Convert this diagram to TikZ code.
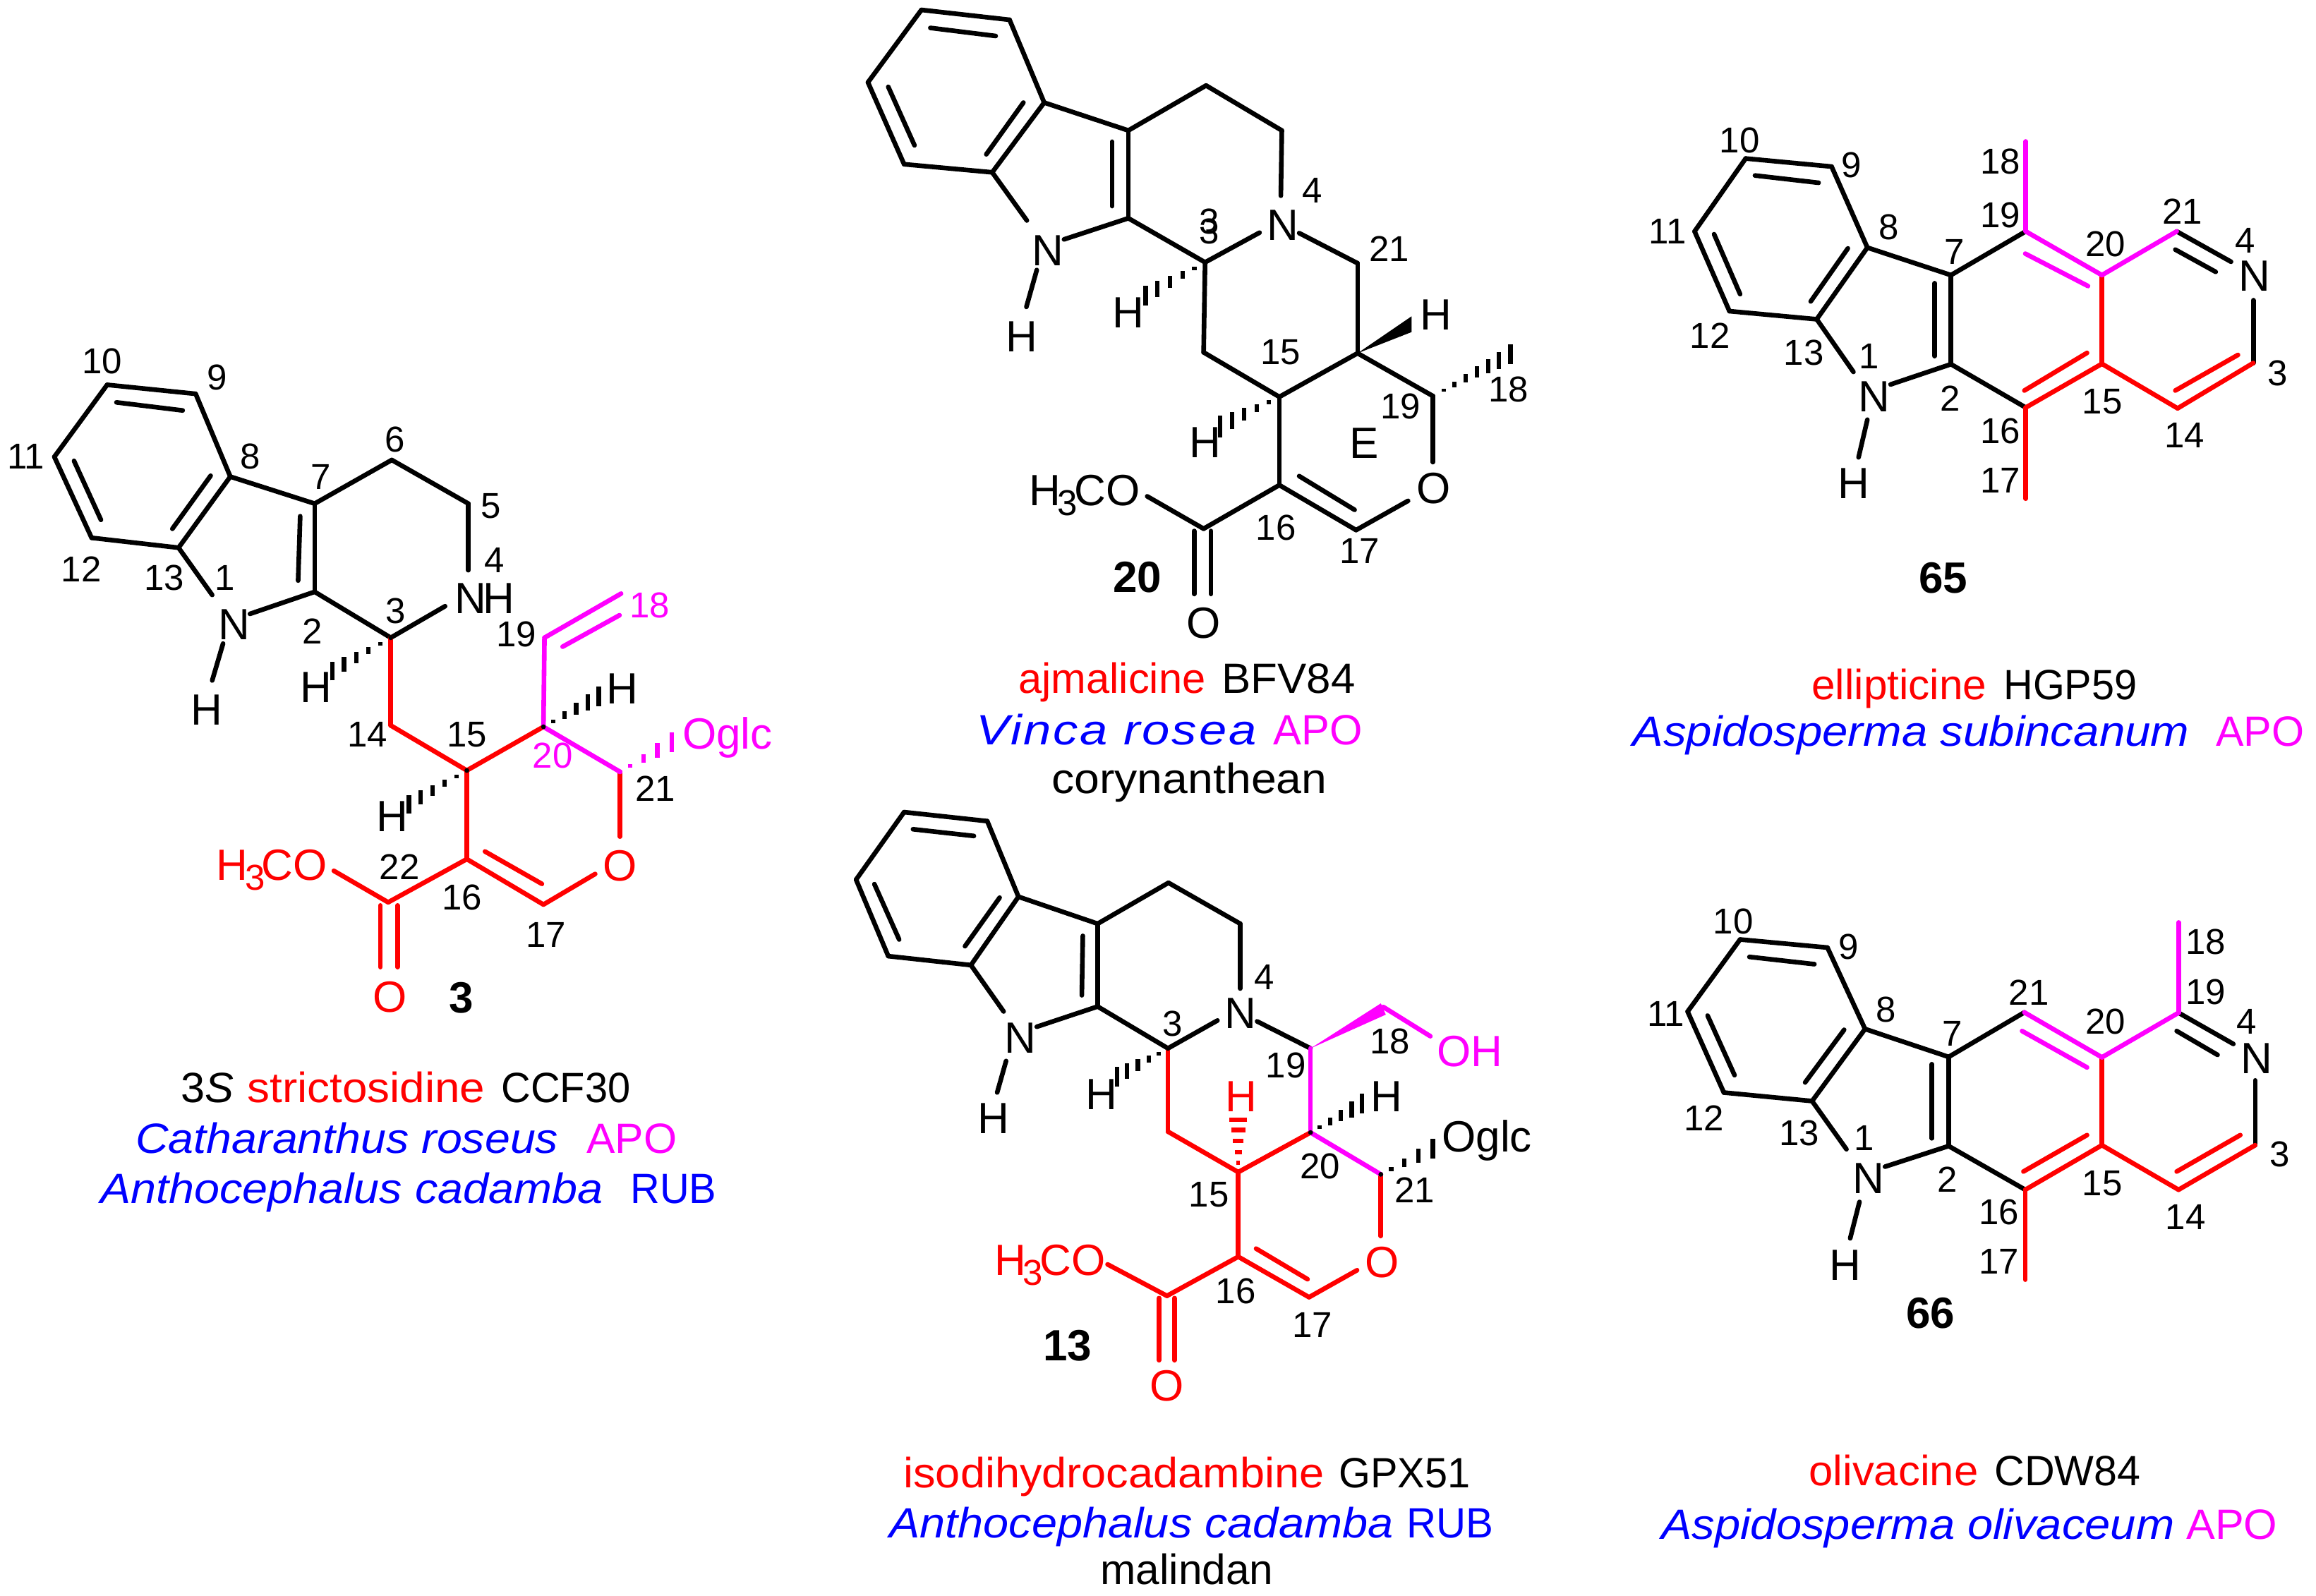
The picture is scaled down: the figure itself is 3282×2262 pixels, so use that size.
\documentclass[tikz,border=0pt]{standalone}
\usepackage{fontspec}
\usepackage{graphicx}
\setmainfont{Liberation Sans}
\usetikzlibrary{calc}
\definecolor{magenta}{rgb}{1,0,1}
\newcommand\atomfont{\fontsize{31}{31}\selectfont}
\newcommand\numfont{\fontsize{25.5}{25.5}\selectfont}
\newcommand\capfont{\fontsize{30}{30}\selectfont}
\newcommand\boldfont{\fontsize{31}{31}\selectfont\bfseries}
\newsavebox\fitbox
\newcommand\fitw[2]{\sbox\fitbox{#2}\pgfmathsetmacro\fitf{(#1)*0.5/\the\wd\fitbox}\scalebox{\fitf}[1]{\usebox\fitbox}}
\newcommand\capn[6]{\node[capt,#5,anchor=base west] (#1) at (#2,#4) {\fitw{#3-#2}{#6}};}
\def\hfive{.18,.38,.59,.8,1}
\def\hseven{.14,.28,.42,.57,.71,.85,1}
\newcommand\hashb[5]{\fill[#1] (#2) circle (1.7pt);\foreach \hh in #5 {\draw[#1,line width=3.1pt,line cap=butt] ($(#2)!\hh!(#3)+(0,\hh*#4)$) -- ($(#2)!\hh!(#3)-(0,\hh*#4)$);}}
\newcommand\hashh[5]{\fill[#1] (#2) circle (1.7pt);\foreach \hh in #5 {\draw[#1,line width=3.1pt,line cap=butt] ($(#2)!\hh!(#3)+(\hh*#4,0)$) -- ($(#2)!\hh!(#3)-(\hh*#4,0)$);}}
\newcommand\bonds[3]{\foreach \pa/\pb in {#3} \draw[bond,#2] (#1\pa) -- (#1\pb);}
\newcommand\pts[2]{\foreach \pn/\pp in {#2} \coordinate (#1\pn) at (\pp);}
\newcommand\nums[3]{\foreach \pn/\pp in {#3} \node[numlab,#2] (#1l\pn) at (\pp) {\pn};}
\newcommand\subthree{\kern-2pt\raisebox{-7pt}{\numfont 3}\kern-2.5pt}
\tikzset{
  bond/.style={line width=3.3pt,line cap=round,line join=round},
  atomlab/.style={inner sep=0pt,font=\atomfont},
  numlab/.style={inner sep=0pt,font=\numfont},
  boldlab/.style={inner sep=0pt,font=\boldfont},
  capt/.style={inner sep=0pt,font=\capfont},
  molA/.style={shift={(0,400)},x=.36671pt,y=-.31888pt},
  molB/.style={shift={(1150,0)},x=.35077pt,y=-.31888pt},
  molC/.style={shift={(1150,1100)},x=.35077pt,y=-.31888pt},
  molD/.style={shift={(2250,150)},x=.32908pt,y=-.28699pt},
  molE/.style={shift={(2250,1250)},x=.32908pt,y=-.28699pt}
}
\begin{document}
\begin{tikzpicture}[x=.5pt,y=-.5pt]
\useasboundingbox (0,0) rectangle (3282,2262);
\fill[white] (0,0) rectangle (3282,2262);
% ---------- compound 3
\begin{scope}[molA]
\pts{A}{c10/{207,228},c9/{378,248},c8/{445,432},c13/{345,590},c12/{177,568},c11/{105,388},
 i1a/{225,267},i1b/{353,285},i2a/{143,397},i2b/{195,528},i3a/{407,430},i3b/{333,548},
 c7/{608,492},c2/{608,688},i4a/{580,520},i4b/{576,663},c6/{757,395},c5/{905,492},c3/{755,790},
 n1a/{410,695},n1b/{483,737},n1c/{431,803},n1d/{410,885},n4a/{905,640},n4b/{860,720},
 c14/{755,985},c15/{902,1085},c20/{1050,988},c21/{1198,1088},c16/{902,1282},c17/{1050,1383},c22/{750,1378},
 i5a/{937,1265},i5b/{1047,1337},oa/{1150,1315},ob/{1198,1232},oma/{645,1308},
 da1/{735,1385},da2/{735,1522},db1/{768,1385},db2/{768,1522},
 c19/{1052,790},c18/{1200,692},i6a/{1087,810},i6b/{1197,740},
 h3/{642,864},h15/{790,1160},h20/{1157,920},h21/{1298,1022}}
\bonds{A}{black}{c10/c9,c9/c8,c8/c13,c13/c12,c12/c11,c11/c10,i1a/i1b,i2a/i2b,i3a/i3b,c8/c7,c7/c2,i4a/i4b,c7/c6,c6/c5,c5/n4a,c3/n4b,c2/c3,c13/n1a,n1b/c2,n1c/n1d}
\bonds{A}{red}{c3/c14,c14/c15,c15/c20,c15/c16,c16/c22,c16/c17,i5a/i5b,c17/oa,ob/c21,c22/oma,da1/da2,db1/db2}
\bonds{A}{magenta}{c20/c21,c20/c19,c19/c18,i6a/i6b}
\hashb{black}{Ac3}{Ah3}{21}{\hfive}
\hashb{black}{Ac15}{Ah15}{20}{\hfive}
\hashb{black}{Ac20}{Ah20}{22}{\hfive}
\hashb{magenta}{Ac21}{Ah21}{22}{{.2,.45,.72,1}}
\node[atomlab] (AN1) at (453,760) {N};
\node[atomlab] (AH1) at (400,950) {H};
\node[atomlab] (AN4) at (909,703) {N};
\node[atomlab] (AH4) at (964,703) {H};
\node[atomlab] (AHa) at (610,900) {H};
\node[atomlab] (AHb) at (758,1187) {H};
\node[atomlab] (AHc) at (1203,903) {H};
\node[atomlab,red] (AO) at (1198,1297) {O};
\node[atomlab,red] (AOme) at (600,1295) {O};
\node[atomlab,red,anchor=base east] (AH3C) at (AOme.base west) {H\subthree C};
\node[atomlab,red] (AOc) at (753,1589) {O};
\node[atomlab,magenta,anchor=base west] (AOglc) at (1318,1037) {Oglc};
\node[boldlab] (Anum) at (891,1590) {3};
\nums{A}{black}{10/{197,175},9/{420,212},11/{50,388},8/{484,387},7/{620,432},6/{763,350},5/{948,497},4/{956,617},12/{157,637},13/{317,657},1/{435,657},2/{603,775},3/{765,730},19/{998,783},14/{710,1005},15/{902,1005},21/{1266,1125},22/{772,1300},16/{893,1367},17/{1055,1450}}
\nums{A}{magenta}{18/{1255,718},20/{1068,1052}}
\end{scope}
\capn{Aca}{256}{331}{1562}{black}{3\textit{S}}
\capn{Acb}{350}{687}{1562}{red}{strictosidine}
\capn{Acc}{710}{893}{1562}{black}{CCF30}
\capn{Acd}{192}{791}{1634}{blue}{\textit{Catharanthus roseus}}
\capn{Ace}{831}{959}{1634}{magenta}{APO}
\capn{Acf}{142}{854}{1705}{blue}{\textit{Anthocephalus cadamba}}
\capn{Acg}{893}{1015}{1705}{blue}{RUB}
% ---------- compound 20
\begin{scope}[molB]
\pts{B}{c10/{222,22},c9/{400,44},c8/{470,228},c13/{365,383},c12/{187,365},c11/{114,183},
 i1a/{240,62},i1b/{372,80},i2a/{155,193},i2b/{208,323},i3a/{428,228},i3b/{353,343},
 c7/{640,290},c2/{640,485},i4a/{607,315},i4b/{607,458},
 n1a/{435,490},n1b/{510,532},n1c/{455,600},n1d/{434,682},
 c6/{797,190},c5/{950,290},n4a/{948,435},n4b/{905,517},n4c/{985,518},c3/{795,583},
 c21/{1103,585},c20/{1103,785},c15/{945,882},c14/{792,783},c19/{1255,880},
 oa/{1255,1027},ob/{1205,1113},c16/{945,1078},c17/{1100,1178},i5a/{985,1058},i5b/{1097,1133},
 c22/{792,1175},oma/{678,1103},da1/{773,1180},da2/{773,1320},db1/{807,1180},db2/{807,1320},
 w1/{1212,703},w2/{1212,738},h3/{675,657},h15/{825,948},h19/{1412,787}}
\bonds{B}{black}{c10/c9,c9/c8,c8/c13,c13/c12,c12/c11,c11/c10,i1a/i1b,i2a/i2b,i3a/i3b,c8/c7,c7/c2,i4a/i4b,c7/c6,c6/c5,c5/n4a,c3/n4b,c2/c3,c13/n1a,n1b/c2,n1c/n1d,n4c/c21,c21/c20,c20/c15,c15/c14,c14/c3,c20/c19,c19/oa,ob/c17,c17/c16,i5a/i5b,c16/c15,c16/c22,c22/oma,da1/da2,db1/db2}
\fill (Bc20) -- (Bw1) -- (Bw2) -- cycle;
\hashb{black}{Bc3}{Bh3}{22}{\hfive}
\hashb{black}{Bc15}{Bh15}{24}{\hfive}
\hashb{black}{Bc19}{Bh19}{22}{\hseven}
\node[atomlab] (BN1) at (477,557) {N};
\node[atomlab] (BH1) at (425,748) {H};
\node[atomlab] (BN4) at (952,500) {N};
\node[atomlab] (BHa) at (640,695) {H};
\node[atomlab] (BHb) at (795,983) {H};
\node[atomlab] (BHc) at (1262,700) {H};
\node[atomlab] (BO) at (1257,1085) {O};
\node[atomlab] (BOme) at (630,1090) {O};
\node[atomlab,anchor=base east] (BH3C) at (BOme.base west) {H\subthree C};
\node[atomlab] (BOc) at (792,1385) {O};
\node[atomlab] (BE) at (1116,985) {E};
\node[boldlab] (Bnum) at (658,1283) {20};
\nums{B}{black}{4/{1012,423},21/{1167,553},15/{947,783},19/{1190,903},18/{1408,866},16/{938,1172},17/{1107,1225}}
\node[numlab] (Bl3a) at (803,493) {3};
\node[numlab] (Bl3b) at (803,515) {3};
\end{scope}
\capn{Bca}{1443}{1708}{982}{red}{ajmalicine}
\capn{Bcb}{1731}{1920}{982}{black}{BFV84}
\capn{Bcc}{1383}{1783}{1055}{blue}{\textit{\addfontfeature{LetterSpace=4}Vinca rosea}}
\capn{Bcd}{1804}{1930}{1055}{magenta}{APO}
\capn{Bce}{1490}{1880}{1124}{black}{corynanthean}
% ---------- compound 13
\begin{scope}[molC]
\pts{C}{c10/{187,80},c9/{355,100},c8/{418,268},c13/{322,420},c12/{155,400},c11/{90,230},
 i1a/{205,118},i1b/{328,133},i2a/{127,240},i2b/{177,363},i3a/{380,270},i3b/{310,378},
 c7/{578,328},c2/{578,512},i4a/{548,355},i4b/{546,487},
 n1a/{388,523},n1b/{455,557},n1c/{393,633},n1d/{375,703},
 c6/{721,237},c5/{866,328},n4a/{866,472},n4b/{820,543},n4c/{900,545},c3/{720,605},
 c19/{1008,605},c18/{1155,513},w1/{1150,505},w2/{1160,530},oh/{1250,578},
 c20/{1008,792},c21/{1150,885},oa/{1150,1022},ob/{1102,1098},
 c17/{1005,1158},c16/{862,1068},i5a/{898,1050},i5b/{1002,1118},c15/{862,880},c14/{720,790},
 c22/{718,1155},oma/{598,1085},da1/{702,1160},da2/{702,1298},db1/{733,1160},db2/{733,1298},
 h3/{617,668},h20/{1112,728},h21/{1255,828},h15/{862,763}}
\bonds{C}{black}{c10/c9,c9/c8,c8/c13,c13/c12,c12/c11,c11/c10,i1a/i1b,i2a/i2b,i3a/i3b,c8/c7,c7/c2,i4a/i4b,c7/c6,c6/c5,c5/n4a,c3/n4b,c2/c3,c13/n1a,n1b/c2,n1c/n1d,n4c/c19}
\bonds{C}{red}{c3/c14,c14/c15,c15/c20,c15/c16,c16/c17,i5a/i5b,c17/ob,oa/c21,c16/c22,c22/oma,da1/da2,db1/db2}
\bonds{C}{magenta}{c19/c20,c20/c21,c18/oh}
\fill[magenta] (Cc19) -- (Cw1) -- (Cw2) -- cycle;
\hashb{black}{Cc3}{Ch3}{22}{\hfive}
\hashb{black}{Cc20}{Ch20}{22}{\hfive}
\hashb{black}{Cc21}{Ch21}{22}{{.2,.45,.72,1}}
\hashh{red}{Cc15}{Ch15}{18}{\hfive}
\node[atomlab] (CN1) at (422,582) {N};
\node[atomlab] (CH1) at (367,760) {H};
\node[atomlab] (CN4) at (866,527) {N};
\node[atomlab] (CHa) at (585,708) {H};
\node[atomlab,red] (CHb) at (868,712) {H};
\node[atomlab] (CHc) at (1162,712) {H};
\node[atomlab,magenta] (COH) at (1330,612) {OH};
\node[atomlab,red] (CO) at (1152,1080) {O};
\node[atomlab,red] (COme) at (560,1076) {O};
\node[atomlab,red,anchor=base east] (CH3C) at (COme.base west) {H\subthree C};
\node[atomlab,red] (COc) at (718,1355) {O};
\node[atomlab,anchor=base west] (COglc) at (1273,835) {Oglc};
\node[boldlab] (Cnum) at (517,1265) {13};
\nums{C}{black}{3/{730,550},4/{915,447},19/{958,643},18/{1168,590},15/{803,930},20/{1027,867},21/{1218,920},16/{857,1145},17/{1012,1220}}
\end{scope}
\capn{Cca}{1280}{1876}{2108}{red}{isodihydrocadambine}
\capn{Ccb}{1897}{2083}{2108}{black}{GPX51}
\capn{Ccc}{1260}{1974}{2179}{blue}{\textit{Anthocephalus cadamba}}
\capn{Ccd}{1993}{2116}{2179}{blue}{RUB}
\capn{Cce}{1559}{1804}{2245}{black}{malindan}
% ---------- compound 65
\begin{scope}[molD]
\pts{D}{c10/{340,130},c9/{525,150},c8/{602,350},c13/{493,527},c12/{305,507},c11/{230,310},
 i1a/{360,172},i1b/{497,190},i2a/{272,317},i2b/{328,465},i3a/{560,352},i3b/{480,483},
 c7/{782,418},c2/{782,638},i4a/{747,438},i4b/{747,618},
 n1a/{572,657},n1b/{652,688},n1c/{602,775},n1d/{583,868},
 c19/{943,310},c18/{943,88},c20/{1107,418},i6a/{942,365},i6b/{1077,445},c21/{1268,310},
 n4a/{1385,385},i7a/{1265,355},i7b/{1352,410},n4b/{1433,480},c3/{1433,635},c14/{1270,747},c15/{1107,637},
 i8a/{1265,703},i8b/{1400,615},c16/{943,745},i9a/{940,703},i9b/{1075,610},c17/{943,970}}
\bonds{D}{black}{c10/c9,c9/c8,c8/c13,c13/c12,c12/c11,c11/c10,i1a/i1b,i2a/i2b,i3a/i3b,c8/c7,c7/c2,i4a/i4b,c13/n1a,n1b/c2,n1c/n1d,c7/c19,c2/c16,c21/n4a,i7a/i7b,n4b/c3}
\bonds{D}{red}{c20/c15,c15/c16,i9a/i9b,c16/c17,c15/c14,c14/c3,i8a/i8b}
\bonds{D}{magenta}{c19/c18,c19/c20,i6a/i6b,c20/c21}
\node[atomlab] (DN1) at (617,718) {N};
\node[atomlab] (DH1) at (572,932) {H};
\node[atomlab] (DN4) at (1435,420) {N};
\node[boldlab] (Dnum) at (765,1165) {65};
\nums{D}{black}{10/{327,85},9/{568,147},11/{172,310},8/{648,300},7/{790,360},18/{888,137},19/{888,270},21/{1280,260},20/{1115,342},4/{1415,333},12/{263,567},13/{465,610},1/{605,618},2/{780,723},16/{888,803},17/{888,925},15/{1108,730},14/{1285,813},3/{1485,660}}
\end{scope}
\capn{Dca}{2567}{2815}{991}{red}{ellipticine}
\capn{Dcb}{2839}{3028}{991}{black}{HGP59}
\capn{Dcc}{2313}{3102}{1057}{blue}{\textit{Aspidosperma subincanum}}
\capn{Dcd}{3140}{3265}{1057}{magenta}{APO}
% ---------- compound 66
\begin{scope}[molE]
\pts{E}{c10/{328,142},c9/{516,162},c8/{597,363},c13/{483,541},c12/{293,520},c11/{215,320},
 i1a/{348,185},i1b/{488,203},i2a/{258,330},i2b/{316,477},i3a/{552,365},i3b/{468,495},
 c7/{777,432},c2/{777,652},i4a/{741,450},i4b/{741,633},
 n1a/{557,660},n1b/{640,703},n1c/{585,790},n1d/{565,880},
 c21/{940,322},c20/{1107,433},i6a/{935,368},i6b/{1075,458},c19/{1272,323},c18/{1272,100},
 n4a/{1390,400},i7a/{1268,368},i7b/{1356,427},n4b/{1437,490},c3/{1437,650},c14/{1272,760},c15/{1107,650},
 i8a/{1268,715},i8b/{1405,625},c16/{942,760},i9a/{938,715},i9b/{1075,625},c17/{942,982}}
\bonds{E}{black}{c10/c9,c9/c8,c8/c13,c13/c12,c12/c11,c11/c10,i1a/i1b,i2a/i2b,i3a/i3b,c8/c7,c7/c2,i4a/i4b,c13/n1a,n1b/c2,n1c/n1d,c7/c21,c2/c16,c19/n4a,i7a/i7b,n4b/c3}
\bonds{E}{red}{c20/c15,c15/c16,i9a/i9b,c16/c17,c15/c14,c14/c3,i8a/i8b}
\bonds{E}{magenta}{c21/c20,i6a/i6b,c20/c19,c19/c18}
\node[atomlab] (EN1) at (605,732) {N};
\node[atomlab] (EH1) at (555,947) {H};
\node[atomlab] (EN4) at (1440,435) {N};
\node[boldlab] (Enum) at (738,1065) {66};
\nums{E}{black}{10/{313,98},9/{562,160},11/{168,325},8/{642,315},7/{785,375},21/{950,273},20/{1115,345},18/{1330,148},19/{1330,272},4/{1418,345},12/{250,583},13/{455,620},1/{595,632},2/{775,735},16/{885,815},17/{885,938},15/{1108,745},14/{1287,827},3/{1490,673}}
\end{scope}
\capn{Eca}{2563}{2803}{2105}{red}{olivacine}
\capn{Ecb}{2826}{3033}{2105}{black}{CDW84}
\capn{Ecc}{2354}{3081}{2181}{blue}{\textit{Aspidosperma olivaceum}}
\capn{Ecd}{3098}{3227}{2181}{magenta}{APO}
\end{tikzpicture}
\end{document}
